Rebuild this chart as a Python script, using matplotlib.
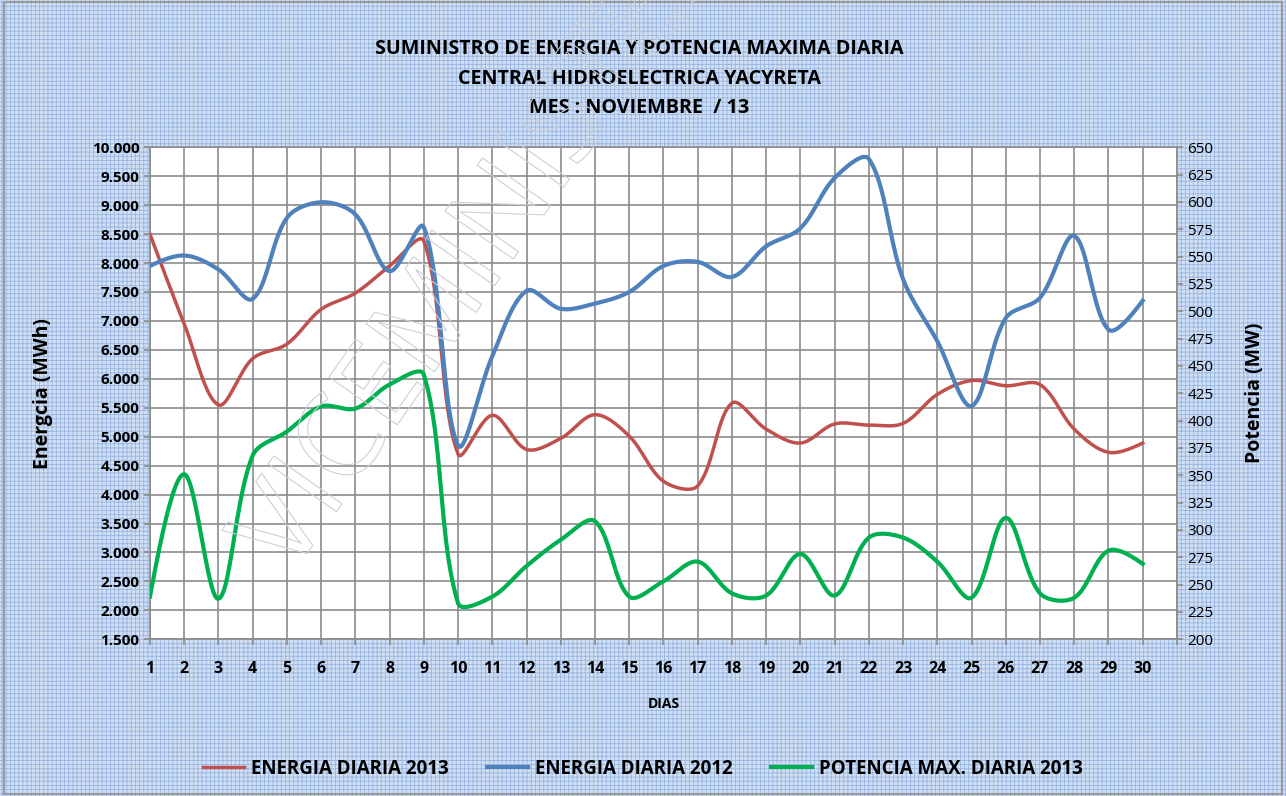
import matplotlib
matplotlib.use("Agg")
import matplotlib.pyplot as plt
import numpy as np
from matplotlib.patches import Rectangle
from matplotlib import patheffects as pe

# datos
dias = list(range(1, 31))

energia_2013 = [8500, 6950, 5550, 6350, 6600, 7200, 7480, 7950, 8380, 4700,
                5370, 4780, 4970, 5380, 5010, 4230, 4150, 5580, 5130, 4890,
                5220, 5200, 5230, 5730, 5970, 5880, 5900, 5130, 4730, 4890]

energia_2012 = [7950, 8130, 7890, 7380, 8780, 9050, 8840, 7860, 8620, 4850,
                6390, 7520, 7210, 7300, 7500, 7950, 8020, 7760, 8290, 8600,
                9470, 9800, 7720, 6650, 5530, 7050, 7400, 8470, 6850, 7350]

potencia_2013 = [239, 351, 237, 368, 390, 413, 411, 433, 442, 233,
                 239, 267, 291, 308, 239, 253, 271, 242, 240, 278,
                 240, 293, 293, 271, 238, 311, 242, 238, 281, 269]

e_ticks = np.arange(1500, 10001, 500)
p_ticks = np.arange(200, 651, 25)

titulos = ["SUMINISTRO DE ENERGIA Y POTENCIA MAXIMA DIARIA",
           "CENTRAL HIDROELECTRICA YACYRETA",
           "MES : NOVIEMBRE  / 13"]

FONT = ["Open Sans", "DejaVu Sans"]


def suavizar(x, y, sx, sy, n=24):
    # curva bezier como la "linea suavizada" de excel,
    # con los puntos de control escalados por la longitud de cada tramo (en pixeles)
    P = np.column_stack([np.asarray(x, float) * sx, np.asarray(y, float) * sy])
    k = len(P)
    cl = P.copy()
    cr = P.copy()
    for i in range(1, k - 1):
        d0 = np.hypot(*(P[i] - P[i - 1]))
        d1 = np.hypot(*(P[i + 1] - P[i]))
        tg = (P[i + 1] - P[i - 1]) / 3.0
        cl[i] = P[i] - tg * d0 / (d0 + d1)
        cr[i] = P[i] + tg * d1 / (d0 + d1)
    cr[0] = P[0] + (cl[1] - P[0]) / 3.0 if k > 2 else P[0]
    cl[-1] = P[-1] + (cr[-2] - P[-1]) / 3.0 if k > 2 else P[-1]
    t = np.linspace(0, 1, n, endpoint=False)[:, None]
    seg = []
    for i in range(k - 1):
        b = ((1 - t) ** 3 * P[i] + 3 * (1 - t) ** 2 * t * cr[i]
             + 3 * (1 - t) * t ** 2 * cl[i + 1] + t ** 3 * P[i + 1])
        seg.append(b)
    seg.append(P[-1:])
    out = np.vstack(seg)
    return out[:, 0] / sx, out[:, 1] / sy


fig = plt.figure(figsize=(12.86, 7.96), dpi=100)
fig.patch.set_facecolor("#d3e1f3")

# fondo cuadriculado
plt.rcParams["hatch.linewidth"] = 0.6
bg = Rectangle((0, 0), 1, 1, transform=fig.transFigure, facecolor="#d0dff3",
               edgecolor="#98b5e0", hatch="++++", linewidth=0, zorder=-10)
fig.patches.append(bg)
fig.patches.append(Rectangle((0.003, 0.003), 0.994, 0.994, transform=fig.transFigure,
                             facecolor="none", edgecolor="#9a9a9a", linewidth=1.5, zorder=-5))

ax = fig.add_axes([0.1166, 0.1969, 0.7986, 0.6181])
ax.set_facecolor("white")
ax.set_xlim(1, 31)
ax.set_ylim(1500, 10000)
ax.set_xticks(range(1, 32))
ax.set_xticklabels([str(d) for d in dias] + [""], fontsize=11.5, fontweight="bold", family=FONT)
ax.set_yticks(e_ticks)
ax.set_yticklabels([f"{v:,.0f}".replace(",", ".") for v in e_ticks],
                   fontsize=11, fontweight="bold", family=FONT)
ax.grid(True, color="#8c8c8c", linewidth=1.2)
ax.set_axisbelow(True)
for s in ax.spines.values():
    s.set_color("#8c8c8c")
    s.set_linewidth(1.2)
ax.tick_params(axis="both", color="#8c8c8c", length=4, width=1.2)
ax.tick_params(axis="x", pad=12)

ax2 = ax.twinx()
ax2.set_ylim(200, 650)
ax2.set_yticks(p_ticks)
ax2.set_yticklabels([str(v) for v in p_ticks], fontsize=11, family=FONT)
for s in ax2.spines.values():
    s.set_visible(False)
ax2.tick_params(axis="y", color="#8c8c8c", length=4, width=1.2)

# escala en pixeles para el suavizado
px_dia = 1027 / 30
px_e = 492 / 8500
px_p = 492 / 450

xr, yr = suavizar(dias, energia_2013, px_dia, px_e)
l1, = ax.plot(xr, yr, color="#c0504d", linewidth=2.5, label="ENERGIA DIARIA 2013", zorder=3)
xb, yb = suavizar(dias, energia_2012, px_dia, px_e)
l2, = ax.plot(xb, yb, color="#4f81bd", linewidth=3, label="ENERGIA DIARIA 2012", zorder=3)
xg, yg = suavizar(dias, potencia_2013, px_dia, px_p)
l3, = ax2.plot(xg, yg, color="#00b050", linewidth=3, label="POTENCIA MAX. DIARIA 2013", zorder=3)

# marca de agua (se corta en el borde superior, como en el original)
fig.text(290 / 1286, 1 - 578 / 796, "VICEMINISTERIO", rotation=55, rotation_mode="anchor",
         fontsize=84, color="none", ha="left", va="baseline", family=FONT, zorder=5,
         path_effects=[pe.withStroke(linewidth=0.8, foreground="#cdd0d8")])

ax.set_xlabel("DIAS", fontsize=10, fontweight="bold", family=FONT, labelpad=14)
ax.set_ylabel("Energcia (MWh)", fontsize=14, fontweight="bold", family=FONT, labelpad=28)
ax2.set_ylabel("Potencia (MW)", fontsize=14, fontweight="bold", family=FONT, labelpad=23,
               rotation=90)

for t, yy in zip(titulos, [49, 79, 108]):
    fig.text(0.497, 1 - yy / 796, t, ha="center", va="center", fontsize=14.2,
             fontweight="bold", family=FONT)

fig.legend(handles=[l1, l2, l3], loc="center", bbox_to_anchor=(0.5, 0.034), ncol=3,
           frameon=False, prop={"family": FONT, "weight": "bold", "size": 13.5},
           handlelength=2.2, columnspacing=2.0, handletextpad=0.4)

fig.savefig("out.png", dpi=100, facecolor=fig.get_facecolor())
